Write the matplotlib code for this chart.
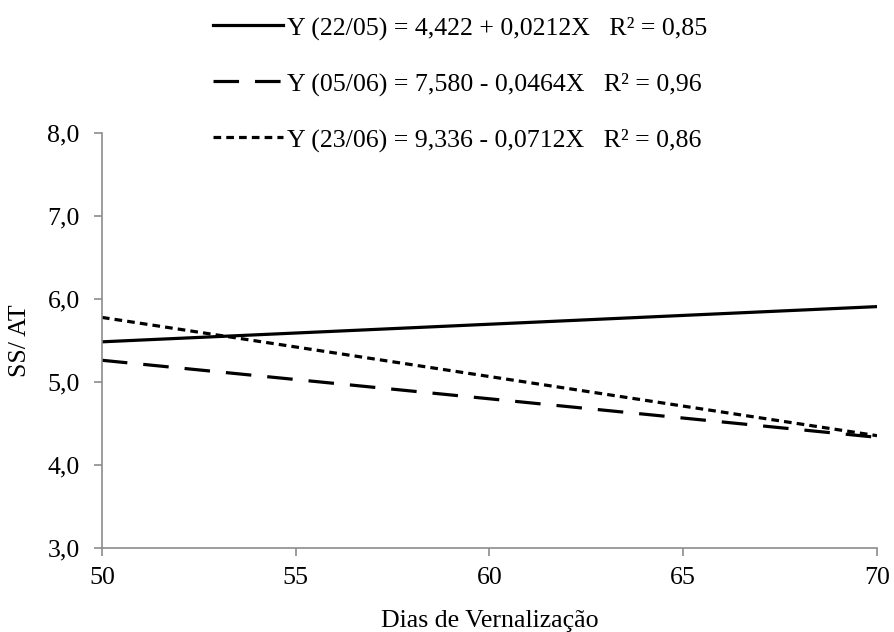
import matplotlib
matplotlib.use("Agg")
import matplotlib.pyplot as plt

plt.rcParams['font.family'] = ['Liberation Serif', 'DejaVu Serif']

# Days of vernalization (range of the fitted lines)
dias = [50, 70]

# Fitted SS/AT values at the ends of the range, per sowing date
ss_at_2205 = [5.482, 5.906]
ss_at_0506 = [5.260, 4.332]
ss_at_2306 = [5.776, 4.352]

labels = [
    "Y (22/05) = 4,422 + 0,0212X   R\u00b2 = 0,85",
    "Y (05/06) = 7,580 - 0,0464X   R\u00b2 = 0,96",
    "Y (23/06) = 9,336 - 0,0712X   R\u00b2 = 0,86",
]

x_ticks = [50, 55, 60, 65, 70]
y_ticks = [3.0, 4.0, 5.0, 6.0, 7.0, 8.0]

fs = 18.6

fig = plt.figure(figsize=(8.94, 6.32), dpi=100)
ax = fig.add_axes([0.114, 0.133, 0.867, 0.657])

lw = 2.3
ax.plot(dias, ss_at_2205, color="black", lw=lw, label=labels[0])
ax.plot(dias, ss_at_0506, color="black", lw=lw, dashes=(8, 5), label=labels[1])
ax.plot(dias, ss_at_2306, color="black", lw=lw, dashes=(2.4, 1.6), label=labels[2])

ax.set_xlim(50, 70)
ax.set_ylim(3, 8)
ax.set_xticks(x_ticks)
ax.set_yticks(y_ticks)
ax.set_yticklabels([f"{v:.1f}".replace(".", ",") for v in y_ticks])

ax.spines['top'].set_visible(False)
ax.spines['right'].set_visible(False)
for s in ('left', 'bottom'):
    ax.spines[s].set_color("#8c8c8c")
    ax.spines[s].set_linewidth(1.2)
ax.tick_params(axis='both', colors="#8c8c8c", labelcolor="black",
               labelsize=fs, length=6, width=1.2)
ax.tick_params(axis='y', pad=10)
ax.tick_params(axis='x', pad=8)

ax.set_xlabel("Dias de Vernalização", fontsize=fs, labelpad=15)
ax.set_ylabel("SS/ AT", fontsize=fs, labelpad=12)

leg = ax.legend(loc="upper left", bbox_to_anchor=(0.13, 1.305), frameon=False,
                fontsize=fs, handlelength=2.7, handletextpad=0.15,
                labelspacing=1.25, borderaxespad=0)

fig.savefig("out.png", dpi=100)
